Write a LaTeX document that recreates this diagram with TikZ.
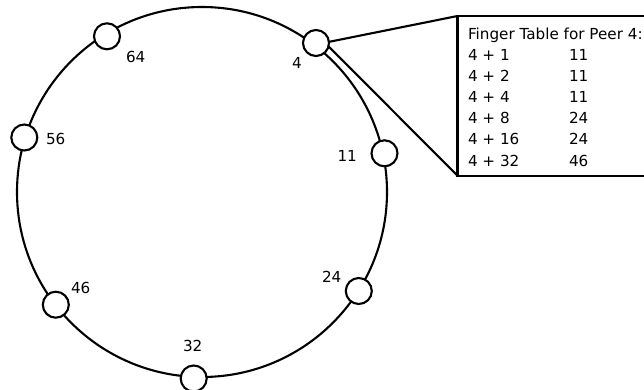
\documentclass[tikz,border=0pt]{standalone}
\usepackage{fontspec}
\setmainfont{DejaVu Sans}
\begin{document}
\begin{tikzpicture}[x=1pt,y=-1pt,
  peer/.style={circle,draw,fill=white,line width=2.1pt,minimum size=26pt,inner sep=0pt,outer sep=0pt},
  ring/.style={line width=2.1pt},
  lbl/.style={anchor=base west,inner sep=0pt,outer sep=0pt,font=\fontsize{15.2}{18}\selectfont},
  tbl/.style={draw,line width=2.1pt,minimum width=200pt,minimum height=159.7pt,inner sep=0pt,outer sep=0pt},
  link/.style={line width=2.1pt}]
\useasboundingbox (0,0) rectangle (644,390);
\clip (0,0) rectangle (644,390);
\draw[ring] (202,192) circle[radius=185];
\node[peer] (p64) at (107,36.3) {};
\node[peer] (p4) at (316,43) {};
\node[peer] (p56) at (24.3,137.5) {};
\node[peer] (p11) at (384.5,153.3) {};
\node[peer] (p24) at (358.8,291) {};
\node[peer] (p46) at (55.8,304.7) {};
\node[peer] (p32) at (193.7,378.5) {};
\node[lbl] (l64) at (126,63) {64};
\node[lbl] (l4) at (292,69) {4};
\node[lbl] (l56) at (46,145) {56};
\node[lbl] (l11) at (337.5,161) {11};
\node[lbl] (l24) at (322,282) {24};
\node[lbl] (l46) at (71,293) {46};
\node[lbl] (l32) at (183,351) {32};
\node[tbl] (box) at (557.5,95.85) {};
\draw[link] (p4.5) -- (box.north west);
\draw[link] (p4.-15) -- (box.south west);
\node[lbl] (title) at (468,39.3) {Finger Table for Peer 4:};
\node[lbl] (a1) at (468,60.7) {4 + 1};
\node[lbl] (a2) at (468,81.7) {4 + 2};
\node[lbl] (a3) at (468,102.7) {4 + 4};
\node[lbl] (a4) at (468,124) {4 + 8};
\node[lbl] (a5) at (468,145) {4 + 16};
\node[lbl] (a6) at (468,166) {4 + 32};
\node[lbl] (b1) at (569,60.7) {11};
\node[lbl] (b2) at (569,81.7) {11};
\node[lbl] (b3) at (569,102.7) {11};
\node[lbl] (b4) at (569,124) {24};
\node[lbl] (b5) at (569,145) {24};
\node[lbl] (b6) at (569,166) {46};
\end{tikzpicture}
\end{document}
